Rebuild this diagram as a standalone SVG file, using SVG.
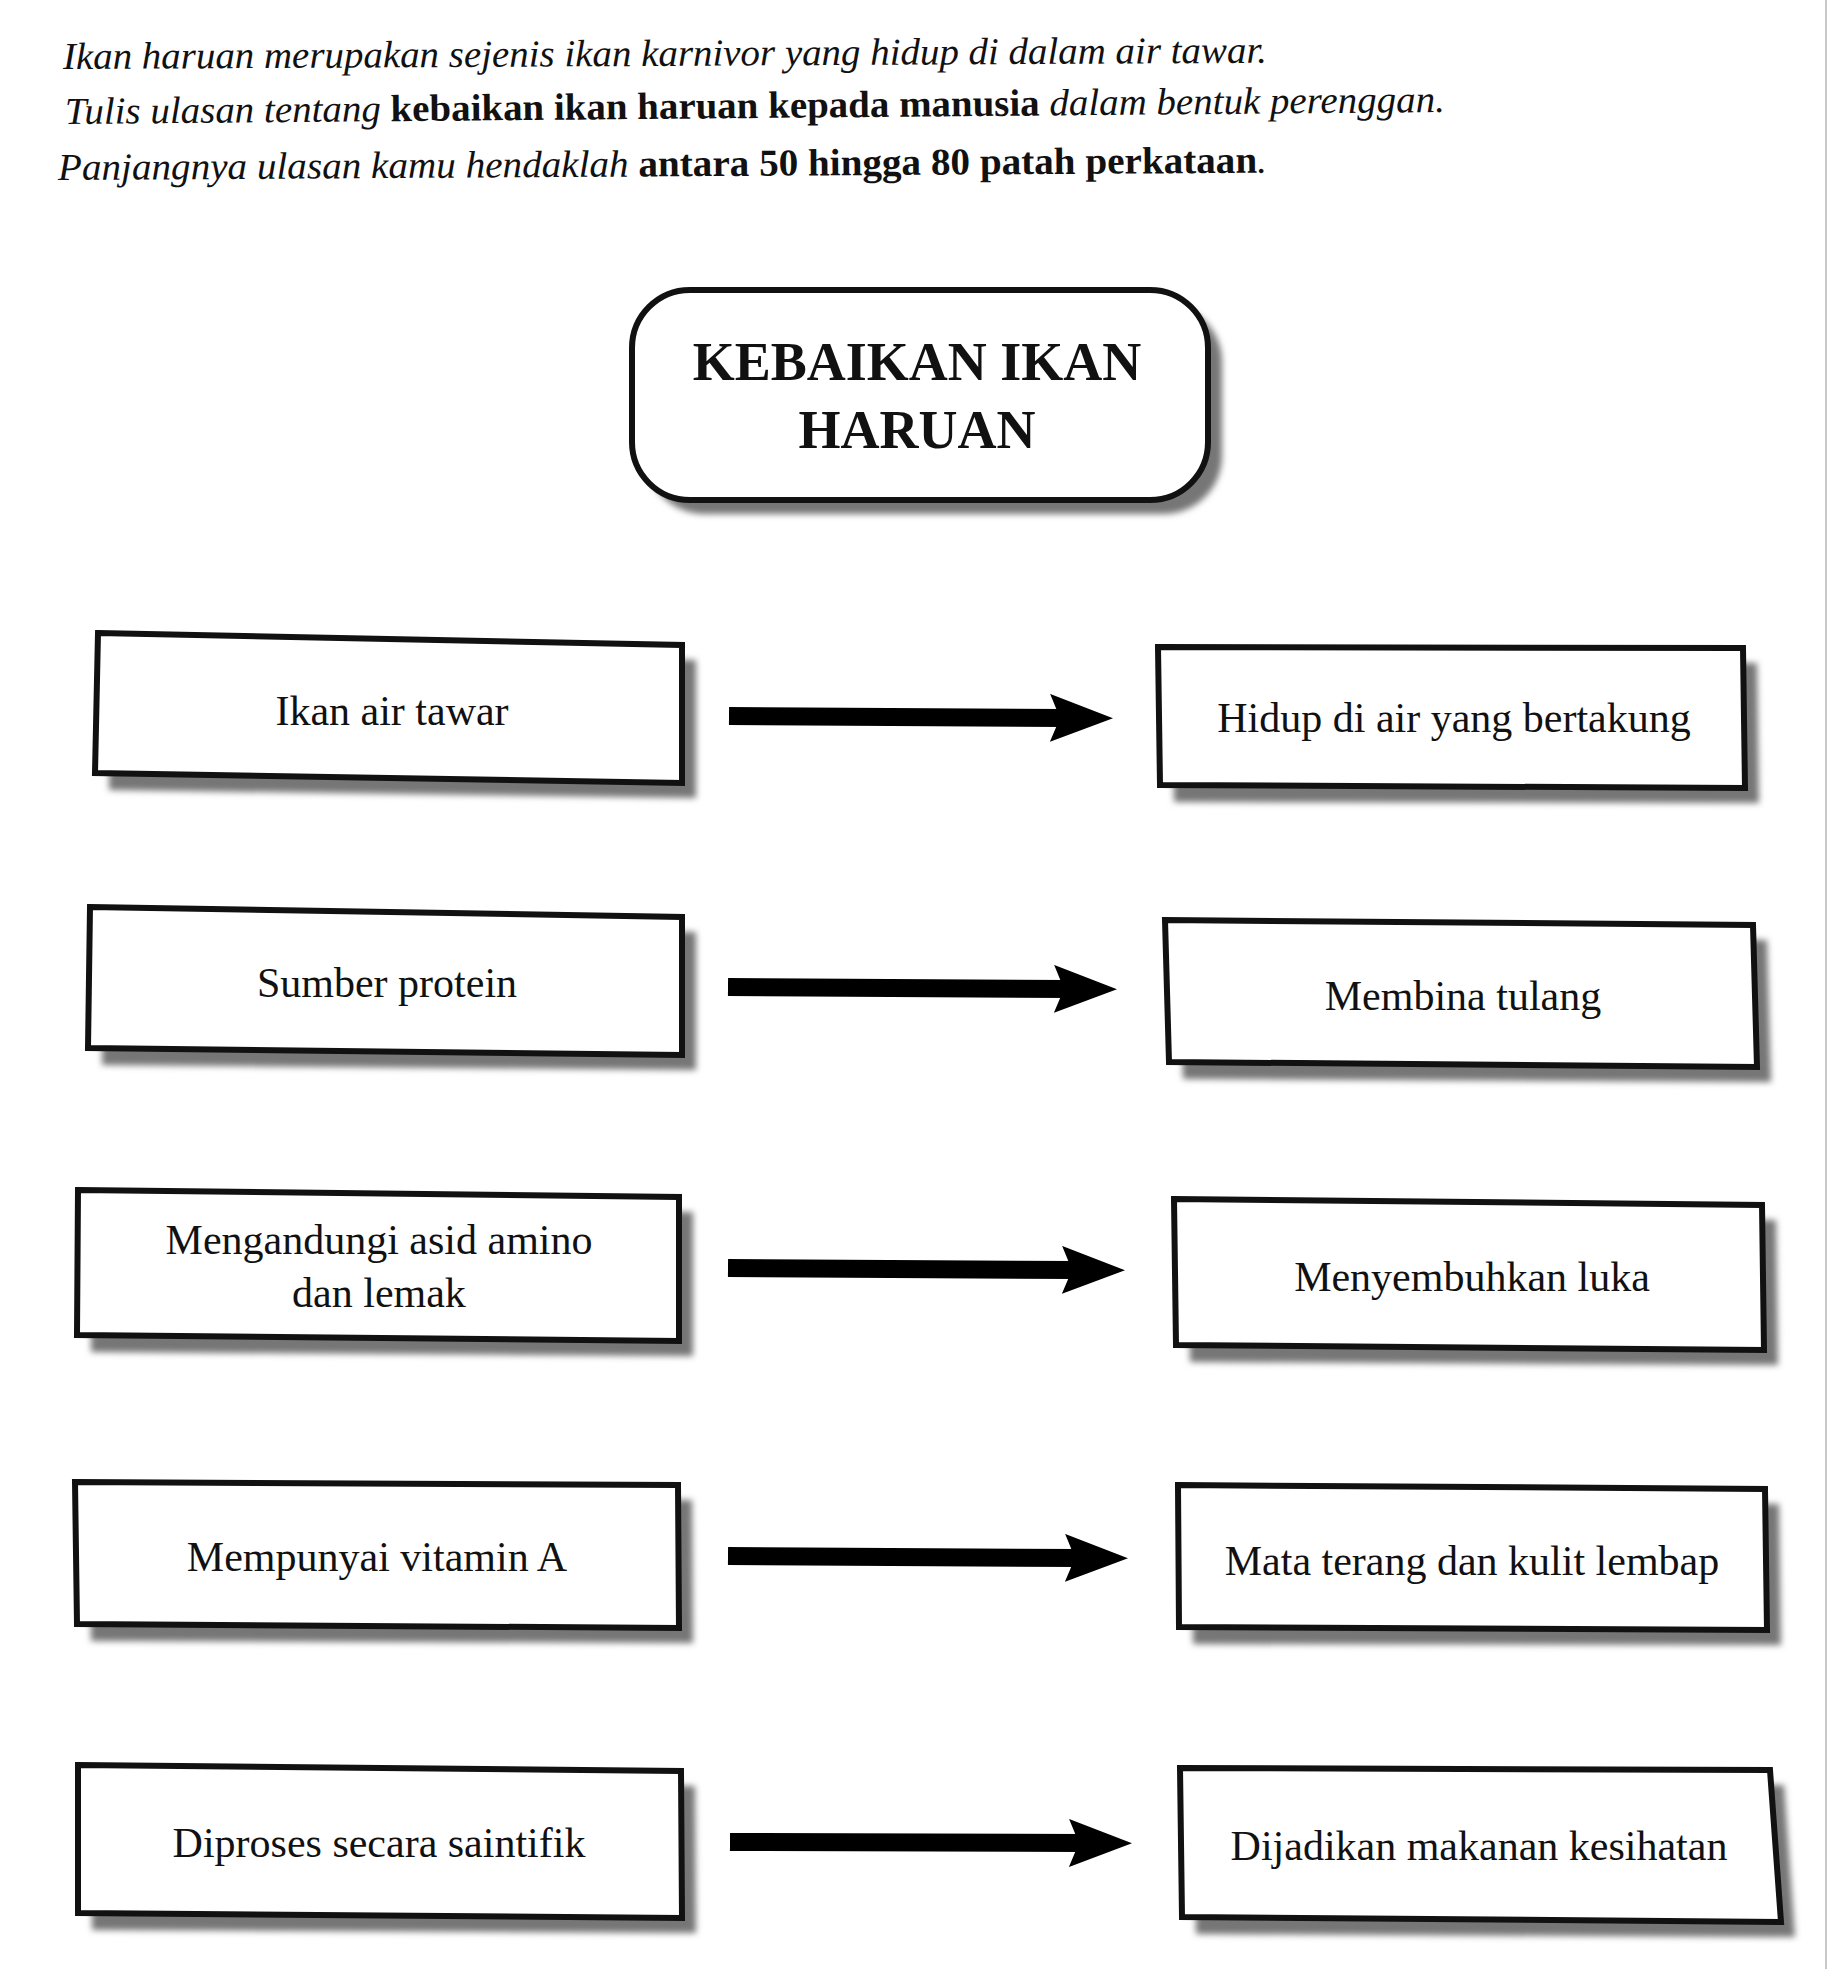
<svg xmlns="http://www.w3.org/2000/svg" width="1837" height="1969" viewBox="0 0 1837 1969">
  <defs>
    <filter id="blur" x="-5%" y="-20%" width="110%" height="140%">
      <feGaussianBlur stdDeviation="3"/>
    </filter>
    <marker id="head" markerUnits="userSpaceOnUse" markerWidth="64" markerHeight="50" viewBox="0 0 64 50" refX="13" refY="24" orient="auto">
      <path d="M0,0 L63,24 L0,48 L10,24 Z" fill="#000"/>
    </marker>
  </defs>
  <style>
    .box { fill: #fff; stroke: #111; stroke-width: 6; stroke-linejoin: miter; }
    .shadow { fill: #767676; filter: url(#blur); }
    .lbl { font-family: "Liberation Serif", "Times New Roman", serif; font-size: 42px; fill: #111; text-anchor: middle; }
    .title { font-family: "Liberation Serif", "Times New Roman", serif; font-size: 54px; font-weight: bold; fill: #111; text-anchor: middle; }
    .ins { font-family: "Liberation Serif", "Times New Roman", serif; font-size: 38px; font-style: italic; fill: #111; }
    .b { font-weight: bold; font-style: normal; }
    .arrow { stroke: #000; stroke-width: 18; fill: none; marker-end: url(#head); }
  </style>
  <rect width="1837" height="1969" fill="#fff"/>
  <line x1="1826" y1="0" x2="1826" y2="1969" stroke="#c8c8c8" stroke-width="2"/>

  <g id="instructions">
    <text class="ins" x="63" y="69" textLength="1204" lengthAdjust="spacingAndGlyphs" transform="rotate(-0.3 63 69)">Ikan haruan merupakan sejenis ikan karnivor yang hidup di dalam air tawar.</text>
    <text class="ins" x="65" y="124" textLength="1380" lengthAdjust="spacingAndGlyphs" transform="rotate(-0.5 65 124)">Tulis ulasan tentang <tspan class="b">kebaikan ikan haruan kepada manusia</tspan> dalam bentuk perenggan.</text>
    <text class="ins" x="58" y="180" textLength="1209" lengthAdjust="spacingAndGlyphs" transform="rotate(-0.35 58 180)">Panjangnya ulasan kamu hendaklah <tspan class="b">antara 50 hingga 80 patah perkataan</tspan>.</text>
  </g>

  <g id="node-title">
    <rect class="shadow" x="646" y="304" width="576" height="210" rx="58"/>
    <rect class="box" x="632" y="290" width="576" height="210" rx="58"/>
    <text class="title" x="917" y="380">KEBAIKAN IKAN</text>
    <text class="title" x="917" y="448">HARUAN</text>
  </g>

  <g id="node-l1">
    <polygon class="shadow" points="111,648 696,660 696,798 109,790"/>
    <polygon class="box" points="98,633 682,645 682,783 95,773"/>
    <text class="lbl" x="392" y="725">Ikan air tawar</text>
  </g>
  <g id="node-l2">
    <polygon class="shadow" points="104,922 696,932 696,1070 102,1065"/>
    <polygon class="box" points="90,907 682,917 682,1055 88,1048"/>
    <text class="lbl" x="387" y="997">Sumber protein</text>
  </g>
  <g id="node-l3">
    <polygon class="shadow" points="92,1205 693,1212 693,1356 91,1352"/>
    <polygon class="box" points="78,1190 679,1197 679,1341 77,1335"/>
    <text class="lbl" x="379" y="1254">Mengandungi asid amino</text>
    <text class="lbl" x="379" y="1307">dan lemak</text>
  </g>
  <g id="node-l4">
    <polygon class="shadow" points="89,1497 692,1500 693,1643 91,1641"/>
    <polygon class="box" points="75,1482 678,1485 679,1628 77,1624"/>
    <text class="lbl" x="377" y="1571">Mempunyai vitamin A</text>
  </g>
  <g id="node-l5">
    <polygon class="shadow" points="92,1780 695,1786 696,1933 92,1930"/>
    <polygon class="box" points="78,1765 681,1771 682,1918 78,1913"/>
    <text class="lbl" x="379" y="1857">Diproses secara saintifik</text>
  </g>

  <g id="node-r1">
    <polygon class="shadow" points="1172,662 1757,663 1759,803 1174,802"/>
    <polygon class="box" points="1158,647 1743,648 1745,788 1160,785"/>
    <text class="lbl" x="1454" y="732">Hidup di air yang bertakung</text>
  </g>
  <g id="node-r2">
    <polygon class="shadow" points="1179,935 1767,940 1771,1082 1183,1079"/>
    <polygon class="box" points="1165,920 1753,925 1757,1067 1169,1062"/>
    <text class="lbl" x="1463" y="1010">Membina tulang</text>
  </g>
  <g id="node-r3">
    <polygon class="shadow" points="1188,1214 1776,1220 1778,1365 1190,1362"/>
    <polygon class="box" points="1174,1199 1762,1205 1764,1350 1176,1345"/>
    <text class="lbl" x="1472" y="1291">Menyembuhkan luka</text>
  </g>
  <g id="node-r4">
    <polygon class="shadow" points="1192,1500 1779,1504 1781,1645 1193,1644"/>
    <polygon class="box" points="1178,1485 1765,1489 1767,1630 1179,1627"/>
    <text class="lbl" x="1472" y="1575">Mata terang dan kulit lembap</text>
  </g>
  <g id="node-r5">
    <polygon class="shadow" points="1194,1783 1784,1785 1795,1937 1196,1934"/>
    <polygon class="box" points="1180,1768 1770,1770 1781,1922 1182,1917"/>
    <text class="lbl" x="1479" y="1860">Dijadikan makanan kesihatan</text>
  </g>

  <g id="connectors">
    <line class="arrow" x1="729" y1="716" x2="1063" y2="718"/>
    <line class="arrow" x1="728" y1="987" x2="1067" y2="989"/>
    <line class="arrow" x1="728" y1="1268" x2="1075" y2="1270"/>
    <line class="arrow" x1="728" y1="1556" x2="1078" y2="1558"/>
    <line class="arrow" x1="730" y1="1842" x2="1082" y2="1843"/>
  </g>
</svg>
